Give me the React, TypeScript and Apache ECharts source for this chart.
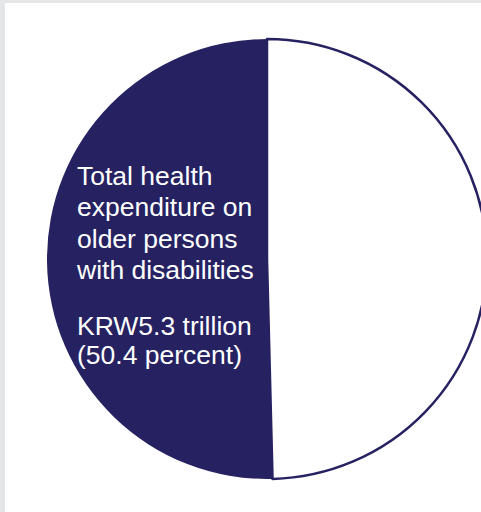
import React, { useEffect, useRef } from "react";
import * as echarts from "echarts";

const categories = ["Older persons with disabilities", "Others"];
const shares = [50.4, 49.6];
const amountLabel = "KRW5.3 trillion";
const labelLines = ["Total health", "expenditure on", "older persons", "with disabilities"];

const NAVY = "#262262";

export default function App() {
  const ref = useRef<HTMLDivElement>(null);
  useEffect(() => {
    if (!ref.current) return;
    const chart = echarts.init(ref.current, undefined, { renderer: "svg" });
    const font = "'Liberation Sans', Arial, Helvetica, sans-serif";
    chart.setOption({
      animation: false,
      backgroundColor: "#ffffff",
      series: [
        {
          type: "pie",
          center: [262, 256],
          radius: [0, 220],
          startAngle: 90,
          clockwise: false,
          label: { show: false },
          labelLine: { show: false },
          emphasis: { disabled: true },
          data: [
            { name: categories[0], value: shares[0], itemStyle: { color: NAVY, borderWidth: 0 } },
            { name: categories[1], value: shares[1], itemStyle: { color: "#ffffff", borderColor: NAVY, borderWidth: 2.5 } },
          ],
        },
      ],
      graphic: [
        {
          type: "text",
          z: 100,
          left: 72,
          top: 157,
          style: {
            text: labelLines.join("\n"),
            fill: "#ffffff",
            font: `26.5px ${font}`,
            lineHeight: 31.5,
          },
        },
        {
          type: "text",
          z: 100,
          left: 72,
          top: 308,
          style: {
            text: `${amountLabel}\n(${shares[0]} percent)`,
            fill: "#ffffff",
            font: `26.5px ${font}`,
            lineHeight: 29,
          },
        },
      ],
    });
    return () => chart.dispose();
  }, []);
  return (
    <div style={{ position: "fixed", left: 0, top: 0, width: 481, height: 512, background: "#e5e6e8" }}>
      <div ref={ref} style={{ position: "absolute", left: 5, top: 3, width: 476, height: 509 }} />
    </div>
  );
}
